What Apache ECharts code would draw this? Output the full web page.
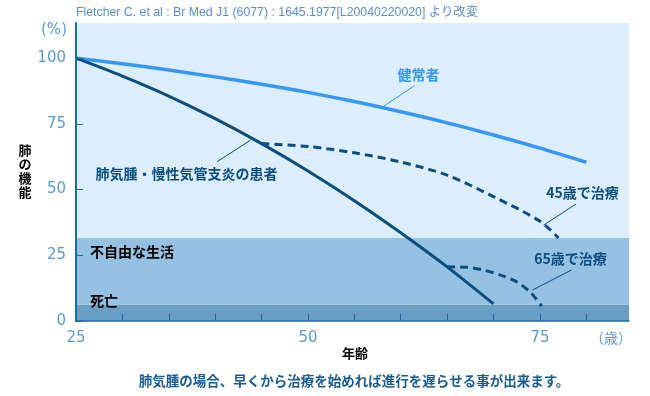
<!DOCTYPE html>
<html><head><meta charset="utf-8">
<script src="https://cdn.jsdelivr.net/npm/echarts@6/dist/echarts.min.js"></script>
<style>html,body{margin:0;padding:0;background:#fff}#c{width:650px;height:396px}</style>
</head><body><div id="c"></div>
<script>
// ---- data ----
const healthyAges   = [25, 30, 35, 40, 45, 50, 55, 60, 65, 70, 75, 80];
const healthyValues = [100, 97.9, 95.5, 92.9, 90.1, 87, 83.5, 79.6, 75.4, 70.8, 65.8, 60.4];
const patientAges   = [25, 30, 35, 40, 45, 50, 55, 60, 65, 70];
const patientValues = [100, 93.2, 85.6, 77, 67.5, 57.1, 45.8, 33.6, 20.6, 6.5];
const treat45Ages   = [45, 50, 55, 60, 65, 70, 75, 77];
const treat45Values = [67.5, 66.4, 64, 60.5, 55.5, 47.3, 38, 31.6];
const treat65Ages   = [65, 67, 69, 71, 72.5, 73.8, 74.5, 75.2];
const treat65Values = [20.6, 20.5, 19.3, 17.2, 14.9, 11.5, 8.8, 5.7];
const bandLimits    = [0, 6.3, 31.6, 113.4];          // 死亡 / 不自由な生活 / normal
const bandNames     = ['死亡', '不自由な生活'];
const xTickValues   = [25, 30, 35, 40, 45, 50, 55, 60, 65, 70, 75, 80];
const xLabelValues  = [25, 50, 75];
const yTickValues   = [0, 25, 50, 75, 100];
const xRange = [25, 84.6];
const yRange = [0, 113.4];
const seriesLabels = ['健常者', '肺気腫・慢性気管支炎の患者', '45歳で治療', '65歳で治療'];
const sourceText = 'Fletcher C. et al : Br Med J1 (6077) : 1645.1977[L20040220020] より改変';
const captionText = '肺気腫の場合、早くから治療を始めれば進行を遅らせる事が出来ます。';

const pairs = (xs, ys) => xs.map((x, i) => [x, ys[i]]);

const C_HEALTHY = '#3797f7';
const C_PATIENT = '#0c4d80';
const C_NUM = '#5b9bd2';
const C_AXIS = '#1f6a9c';
const CJK = '"Noto Sans CJK JP", sans-serif';

const chart = echarts.init(document.getElementById('c'), null, {renderer: 'canvas'});
chart.setOption({
  animation: false,
  backgroundColor: '#ffffff',
  grid: {left: 76, right: 21, top: 23, bottom: 75},
  xAxis: {
    type: 'value', min: xRange[0], max: xRange[1], z: 10,
    splitLine: {show: false},
    axisLine: {lineStyle: {color: C_AXIS, width: 1.5}},
    axisTick: {show: true, inside: true, length: 7, lineStyle: {color: C_AXIS, width: 1}, customValues: xTickValues},
    axisLabel: {customValues: xLabelValues, color: C_NUM, fontSize: 15, fontFamily: '"DejaVu Sans"', margin: 10}
  },
  yAxis: {
    type: 'value', min: yRange[0], max: yRange[1], z: 10,
    splitLine: {show: false},
    axisLine: {show: true, lineStyle: {color: C_AXIS, width: 2}},
    axisTick: {show: true, inside: true, length: 7, lineStyle: {color: C_AXIS, width: 1}, customValues: yTickValues},
    axisLabel: {customValues: yTickValues, color: C_NUM, fontSize: 15, fontFamily: '"DejaVu Sans"', margin: 10}
  },
  series: [
    {
      type: 'line', name: seriesLabels[0], data: pairs(healthyAges, healthyValues),
      smooth: 0.3, symbol: 'none', z: 5,
      lineStyle: {color: C_HEALTHY, width: 3.5},
      markArea: {
        silent: true,
        data: [
          [{yAxis: bandLimits[0], itemStyle: {color: '#6a9ec4'}}, {yAxis: bandLimits[1]}],
          [{yAxis: bandLimits[1], itemStyle: {color: '#95c2e2'}}, {yAxis: bandLimits[2]}],
          [{yAxis: bandLimits[2], itemStyle: {color: '#dceefc'}}, {yAxis: bandLimits[3]}]
        ]
      }
    },
    {
      type: 'line', name: seriesLabels[1], data: pairs(patientAges, patientValues),
      smooth: 0.3, symbol: 'none', z: 5,
      lineStyle: {color: C_PATIENT, width: 3}
    },
    {
      type: 'line', name: seriesLabels[2], data: pairs(treat45Ages, treat45Values),
      smooth: 0.3, symbol: 'none', z: 5,
      lineStyle: {color: C_PATIENT, width: 3, type: [8, 5]}
    },
    {
      type: 'line', name: seriesLabels[3], data: pairs(treat65Ages, treat65Values),
      smooth: 0.3, symbol: 'none', z: 5,
      lineStyle: {color: C_PATIENT, width: 3, type: [8, 5]}
    }
  ]
});

const P = (x, y) => chart.convertToPixel({gridIndex: 0}, [x, y]);
function txt(pos, text, style, align, vAlign) {
  return {type: 'text', x: pos[0], y: pos[1], z: 20, silent: true,
    style: Object.assign({text: text, align: align || 'center', verticalAlign: vAlign || 'middle',
      fontFamily: CJK, fontWeight: 'bold', fontSize: 14}, style)};
}
function leader(a, b, color) {
  const p1 = P(a[0], a[1]), p2 = P(b[0], b[1]);
  return {type: 'line', z: 20, silent: true,
    shape: {x1: p1[0], y1: p1[1], x2: p2[0], y2: p2[1]},
    style: {stroke: color, lineWidth: 1}};
}

chart.setOption({
  graphic: [
    txt(P(61.9, 93.6), seriesLabels[0], {fill: C_HEALTHY}),
    leader([61.5, 89.6], [58.1, 81.6], C_HEALTHY),
    txt(P(36.9, 56.0), seriesLabels[1], {fill: C_PATIENT}),
    leader([40.2, 60.6], [43.8, 68.8], C_PATIENT),
    txt(P(79.6, 48.7), seriesLabels[2], {fill: C_PATIENT}),
    leader([78.9, 44.5], [75.4, 36.5], C_PATIENT),
    txt(P(78.3, 23.6), seriesLabels[3], {fill: C_PATIENT}),
    leader([78.4, 19.4], [74.2, 11.8], C_PATIENT),
    txt(P(26.5, 26.3), bandNames[1], {fill: '#000'}, 'left'),
    txt(P(26.5, 7.6), bandNames[0], {fill: '#000'}, 'left'),
    txt([76, 13], sourceText, {fill: '#5b8fc8', fontSize: 12.3, fontWeight: 'normal', fontFamily: '"Liberation Sans", ' + CJK}, 'left'),
    txt([54, 30], '(%)', {fill: C_NUM, fontSize: 15, fontWeight: 'normal', fontFamily: '"DejaVu Sans"'}),
    txt([25, 171], '肺\nの\n機\n能', {fill: '#000', fontSize: 13, lineHeight: 14}),
    txt([355, 353], '年齢', {fill: '#000', fontSize: 13}),
    txt([611, 338], '（歳）', {fill: C_NUM, fontSize: 14, fontWeight: 'normal'}),
    txt([354, 381], captionText, {fill: '#1b5c90', fontSize: 13.5})
  ]
});
</script></body></html>
